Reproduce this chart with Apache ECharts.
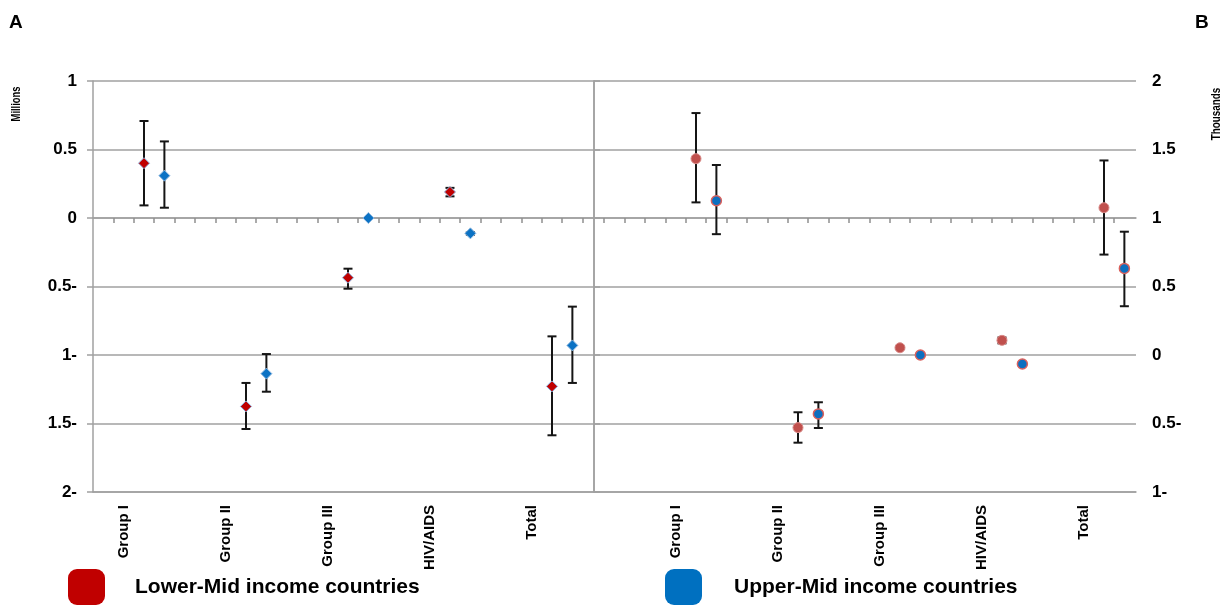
<!DOCTYPE html>
<html><head><meta charset="utf-8">
<script src="https://cdn.jsdelivr.net/npm/echarts@6/dist/echarts.min.js"></script>
<style>html,body{margin:0;padding:0;background:#fff}#c{width:1225px;height:605px}</style>
</head><body><div id="c"></div>
<script>
// ---------- data ----------
const categories = ['Group I', 'Group II', 'Group III', 'HIV/AIDS', 'Total'];
const seriesNames = ['Lower-Mid income countries', 'Upper-Mid income countries'];
// Panel A (Millions)
const lowerA     = [0.400, -1.375, -0.436, 0.190, -1.229];
const lowerALow  = [0.092, -1.540, -0.516, 0.158, -1.586];
const lowerAHigh = [0.708, -1.204, -0.370, 0.220, -0.864];
const upperA     = [0.309, -1.136, 0.000, -0.112, -0.930];
const upperALow  = [0.075, -1.268, 0.000, -0.122, -1.204];
const upperAHigh = [0.559, -0.993, 0.000, -0.102, -0.647];
// Panel B (Thousands)
const lowerB     = [1.433, -0.530, 0.053, 0.107, 1.075];
const lowerBLow  = [1.114, -0.640, 0.045, 0.085, 0.733];
const lowerBHigh = [1.766, -0.418, 0.061, 0.128, 1.420];
const upperB     = [1.126, -0.430, 0.000, -0.066, 0.632];
const upperBLow  = [0.882, -0.533, -0.005, -0.075, 0.356];
const upperBHigh = [1.387, -0.345, 0.005, -0.057, 0.900];
// tick labels
const tickValuesA = [1, 0.5, 0, -0.5, -1, -1.5, -2];
const tickLabelsA = ['1', '0.5', '0', '0.5-', '1-', '1.5-', '2-'];
const tickValuesB = [2, 1.5, 1, 0.5, 0, -0.5, -1];
const tickLabelsB = ['2', '1.5', '1', '0.5', '0', '0.5-', '1-'];

// ---------- layout helpers (slot positions on the sub-category axis) ----------
const SLOT = 5;
const A = {label: 1.5, lower: 2.5, upper: 3.5, max: 24.56};
const B = {label: 4, lower: 5, upper: 6, max: 26.57};
const slot = (off, i) => off + SLOT * i;

const GRID_TOP = 81, GRID_H = 411;
const grey = '#a0a0a0';
const fontFam = 'Arial, "Liberation Sans", sans-serif';

function lookup(vals, labels) {
  return v => { const k = vals.findIndex(t => Math.abs(t - v) < 1e-6); return k >= 0 ? labels[k] : ''; };
}

function tickAxis(grid, max, ticks) {
  return {
    gridIndex: grid, type: 'value', min: 0, max: max, position: 'bottom',
    offset: -GRID_H * 2 / 3,
    axisLine: {show: true, onZero: false, lineStyle: {color: grey, width: 1.5}},
    axisTick: {show: true, customValues: ticks, length: 5, lineStyle: {color: '#909090', width: 1.5}},
    axisLabel: {show: false}, splitLine: {show: false}
  };
}
function labelAxis(grid, max, off) {
  return {
    gridIndex: grid, type: 'value', min: 0, max: max, position: 'bottom',
    axisLine: {show: true, onZero: false, lineStyle: {color: grey, width: 1.5}},
    axisTick: {show: false}, splitLine: {show: false},
    axisLabel: {
      show: true, rotate: 90, margin: 13,
      customValues: categories.map((c, i) => slot(off, i)),
      formatter: v => categories[Math.round((v - off) / SLOT)],
      fontSize: 15, fontWeight: 'bold', color: '#000', fontFamily: fontFam
    }
  };
}
function valAxis(grid, pos, min, max, vals, labels) {
  return {
    gridIndex: grid, type: 'value', position: pos, min: min, max: max, interval: 0.5,
    axisLine: {show: true, lineStyle: {color: grey, width: 1.5}},
    axisTick: {show: true, length: 6, lineStyle: {color: grey, width: 1.5}},
    axisLabel: {show: true, margin: 16, formatter: lookup(vals, labels),
      fontSize: 17, fontWeight: 'bold', color: '#000', fontFamily: fontFam},
    splitLine: {show: true, lineStyle: {color: grey, width: 1.5}}
  };
}

function renderErr(params, api) {
  const x = api.value(0), lo = api.value(1), hi = api.value(2);
  if (hi === lo) return null;
  const p1 = api.coord([x, hi]), p2 = api.coord([x, lo]);
  const w = 4.5, st = {stroke: '#151515', lineWidth: 2};
  return {type: 'group', children: [
    {type: 'line', shape: {x1: p1[0], y1: p1[1], x2: p2[0], y2: p2[1]}, style: st},
    {type: 'line', shape: {x1: p1[0] - w, y1: p1[1], x2: p1[0] + w, y2: p1[1]}, style: st},
    {type: 'line', shape: {x1: p2[0] - w, y1: p2[1], x2: p2[0] + w, y2: p2[1]}, style: st}
  ]};
}
function errSeries(xi, yi, off, low, high) {
  return {
    type: 'custom', name: 'err', xAxisIndex: xi, yAxisIndex: yi, z: 2,
    renderItem: renderErr, encode: {x: 0, y: [1, 2]},
    data: categories.map((c, i) => [slot(off, i), low[i], high[i]])
  };
}
function ptSeries(name, xi, yi, off, vals, symbol, size, style) {
  return {
    type: 'scatter', name: name, xAxisIndex: xi, yAxisIndex: yi, z: 5,
    symbol: symbol, symbolSize: size, itemStyle: style,
    data: categories.map((c, i) => [slot(off, i), vals[i]])
  };
}

const option = {
  animation: false,
  backgroundColor: '#fff',
  textStyle: {fontFamily: fontFam},
  title: [
    {text: 'A', left: 9, top: 13, padding: 0, textStyle: {fontSize: 19, fontWeight: 'bold', color: '#000', fontFamily: fontFam}},
    {text: 'B', left: 1195, top: 13, padding: 0, textStyle: {fontSize: 19, fontWeight: 'bold', color: '#000', fontFamily: fontFam}}
  ],
  grid: [
    {left: 93, top: GRID_TOP, width: 501, height: GRID_H},
    {left: 594, top: GRID_TOP, width: 542, height: GRID_H}
  ],
  xAxis: [
    tickAxis(0, A.max, Array.from({length: 24}, (_, k) => k + 1)),
    labelAxis(0, A.max, A.label),
    tickAxis(1, B.max, Array.from({length: 26}, (_, k) => k + 0.5)),
    labelAxis(1, B.max, B.label)
  ],
  yAxis: [
    valAxis(0, 'left', -2, 1, tickValuesA, tickLabelsA),
    valAxis(1, 'right', -1, 2, tickValuesB, tickLabelsB),
    {gridIndex: 1, type: 'value', position: 'left', min: -1, max: 2, interval: 0.5,
     axisLine: {show: true, lineStyle: {color: grey, width: 1.5}},
     axisTick: {show: false}, axisLabel: {show: false}, splitLine: {show: false}}
  ],
  legend: [
    {left: 68, top: 569, padding: 0, selectedMode: false, icon: 'roundRect', itemWidth: 37, itemHeight: 36,
     data: [{name: seriesNames[0], itemStyle: {color: '#c00000', borderWidth: 0}}],
     textStyle: {fontSize: 21, fontWeight: 'bold', color: '#000', fontFamily: fontFam, padding: [0, 0, 0, 25]}},
    {left: 665, top: 569, padding: 0, selectedMode: false, icon: 'roundRect', itemWidth: 37, itemHeight: 36,
     data: [{name: seriesNames[1], itemStyle: {color: '#0070c0', borderWidth: 0}}],
     textStyle: {fontSize: 21, fontWeight: 'bold', color: '#000', fontFamily: fontFam, padding: [0, 0, 0, 27]}}
  ],
  graphic: [
    {type: 'text', x: 17, y: 104, rotation: Math.PI / 2, scaleX: 0.78,
     style: {text: 'Millions', font: 'bold 12px Arial, "Liberation Sans", sans-serif', fill: '#000', align: 'center', verticalAlign: 'middle'}},
    {type: 'text', x: 1217, y: 114, rotation: Math.PI / 2, scaleX: 0.82,
     style: {text: 'Thousands', font: 'bold 12px Arial, "Liberation Sans", sans-serif', fill: '#000', align: 'center', verticalAlign: 'middle'}}
  ],
  series: [
    errSeries(0, 0, A.lower, lowerALow, lowerAHigh),
    errSeries(0, 0, A.upper, upperALow, upperAHigh),
    ptSeries(seriesNames[0], 0, 0, A.lower, lowerA, 'diamond', 11,
      {color: '#c00000', borderColor: '#8fb0dc', borderWidth: 1, opacity: 1}),
    ptSeries(seriesNames[1], 0, 0, A.upper, upperA, 'diamond', 11,
      {color: '#0b72c4', borderColor: '#8fb8e0', borderWidth: 1, opacity: 1}),
    errSeries(2, 1, B.lower, lowerBLow, lowerBHigh),
    errSeries(2, 1, B.upper, upperBLow, upperBHigh),
    ptSeries(seriesNames[0], 2, 1, B.lower, lowerB, 'circle', 10,
      {color: '#c0504d', borderColor: '#d98a88', borderWidth: 1, opacity: 1}),
    ptSeries(seriesNames[1], 2, 1, B.upper, upperB, 'circle', 10,
      {color: '#0b6fc0', borderColor: '#d9605c', borderWidth: 1.5, opacity: 1})
  ]
};

const chart = echarts.init(document.getElementById('c'), null, {renderer: 'canvas'});
chart.setOption(option);
</script>
</body></html>
